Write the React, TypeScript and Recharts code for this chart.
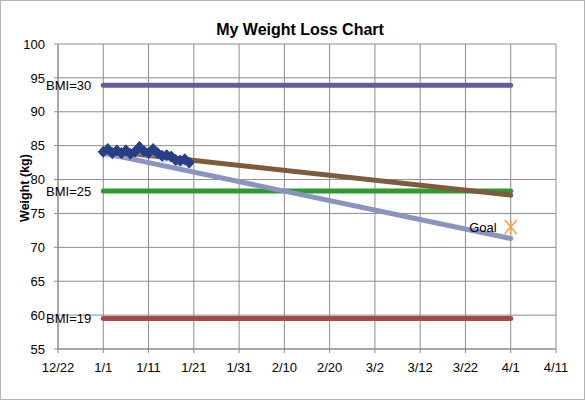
import React from "react";
import {
  ComposedChart,
  Line,
  Scatter,
  XAxis,
  YAxis,
  CartesianGrid,
  Label,
} from "recharts";

// days counted from 12/22
const tickDays = [0, 10, 20, 30, 40, 50, 60, 70, 80, 90, 100, 110];
const dateLabels = ["12/22", "1/1", "1/11", "1/21", "1/31", "2/10", "2/20", "3/2", "3/12", "3/22", "4/1", "4/11"];
const weightTicks = [55, 60, 65, 70, 75, 80, 85, 90, 95, 100];

const weighDays = [10, 11, 12, 13, 14, 15, 16, 17, 18, 19, 20, 21, 22, 23, 24, 25, 26, 27, 28, 29];
const weights = [84.1, 84.5, 83.9, 84.3, 83.9, 84.3, 83.8, 84.1, 84.8, 84.2, 83.9, 84.5, 83.9, 83.5, 83.6, 83.4, 82.9, 82.8, 83.0, 82.5];

const lineDays = [10, 100];
const trendWeights = [84.3, 77.7];
const goalPathWeights = [83.9, 71.3];

const bmiNames = ["BMI=30", "BMI=25", "BMI=19"];
const bmiWeights = [93.9, 78.3, 59.5];
const bmiColors = ["#6a5a9c", "#2f9a2f", "#aa4747"];

const goalDay = 100;
const goalWeight = 73;

const font = "'Liberation Sans', Arial, sans-serif";

const weightData = weighDays.map((d, i) => ({ day: d, kg: weights[i] }));
const trendData = lineDays.map((d, i) => ({ day: d, kg: trendWeights[i] }));
const goalPathData = lineDays.map((d, i) => ({ day: d, kg: goalPathWeights[i] }));
const goalData = [{ day: goalDay, kg: goalWeight }];

const Diamond = (props: any) => {
  const { cx, cy } = props;
  if (cx == null || cy == null) return null;
  return (
    <path
      d={`M${cx},${cy - 5.5} L${cx + 5},${cy} L${cx},${cy + 5.5} L${cx - 5},${cy} Z`}
      fill="#263f85"
      stroke="#263f85"
      strokeWidth={1}
    />
  );
};

const GoalStar = (props: any) => {
  const { cx, cy } = props;
  return (
    <g>
      <path
        d={`M${cx - 6},${cy - 7} L${cx + 6},${cy + 7} M${cx + 6},${cy - 7} L${cx - 6},${cy + 7} M${cx},${cy - 7} L${cx},${cy + 7}`}
        stroke="#f0a050"
        strokeWidth={1.5}
      />
      <text x={cx - 14} y={cy} dy="0.35em" textAnchor="end" fontSize={13} fontFamily={font} fill="#000">
        Goal
      </text>
    </g>
  );
};

const bmiLabel = (name: string) => (props: any) => {
  const { x, y, index } = props;
  if (index !== 0) return <g />;
  return (
    <text x={x - 12} y={y} dy="0.35em" textAnchor="end" fontSize={13} fontFamily={font} fill="#000">
      {name}
    </text>
  );
};

export default function App() {
  return (
    <div
      style={{
        position: "absolute",
        left: 0,
        top: 0,
        width: 585,
        height: 400,
        boxSizing: "border-box",
        border: "1px solid #b4b4b4",
        background: "#fff",
        fontFamily: font,
      }}
    >
      <style>{`.weight-series { filter: drop-shadow(1px 4px 1.5px rgba(150,158,205,0.95)); }`}</style>
      <div
        style={{
          position: "absolute",
          left: 0,
          top: 20,
          width: 598,
          textAlign: "center",
          fontWeight: "bold",
          fontSize: 16,
        }}
      >
        My Weight Loss Chart
      </div>
      <div style={{ position: "absolute", left: -1, top: -1 }}>
        <ComposedChart width={585} height={400} margin={{ top: 44, right: 29, bottom: 21, left: 0 }}>
          <CartesianGrid stroke="#8c8c8c" strokeWidth={1} vertical horizontal />
          <XAxis
            type="number"
            dataKey="day"
            domain={[0, 110]}
            ticks={tickDays}
            tickFormatter={(t: number) => dateLabels[tickDays.indexOf(t)]}
            stroke="#8c8c8c"
            tickSize={4}
            tickMargin={10}
            height={30}
            tick={{ fill: "#000", fontSize: 13, fontFamily: font }}
            allowDataOverflow
          />
          <YAxis
            type="number"
            dataKey="kg"
            domain={[55, 100]}
            ticks={weightTicks}
            stroke="#8c8c8c"
            tickSize={4}
            tickMargin={9}
            width={58}
            tick={{ fill: "#000", fontSize: 13, fontFamily: font }}
            allowDataOverflow
          >
            <Label
              content={() => (
                <text
                  x={25}
                  y={188}
                  transform="rotate(-90,25,188)"
                  textAnchor="middle"
                  dy="0.35em"
                  fontSize={12.5}
                  fontWeight="bold"
                  fontFamily={font}
                  fill="#000"
                >
                  Weight (kg)
                </text>
              )}
            />
          </YAxis>
          {bmiNames.map((name, i) => (
            <Line
              key={name}
              data={lineDays.map((d) => ({ day: d, kg: bmiWeights[i] }))}
              dataKey="kg"
              stroke={bmiColors[i]}
              strokeWidth={5}
              strokeLinecap="round"
              dot={false}
              activeDot={false}
              label={bmiLabel(name)}
              isAnimationActive={false}
            />
          ))}
          <Line
            data={goalPathData}
            dataKey="kg"
            stroke="#8b93c2"
            strokeWidth={5}
            strokeLinecap="round"
            dot={false}
            activeDot={false}
            isAnimationActive={false}
          />
          <Line
            data={trendData}
            dataKey="kg"
            stroke="#7d5b3c"
            strokeWidth={5}
            strokeLinecap="round"
            dot={false}
            activeDot={false}
            isAnimationActive={false}
          />
          <Line
            className="weight-series"
            data={weightData}
            dataKey="kg"
            stroke="#263f85"
            strokeWidth={3}
            dot={<Diamond />}
            activeDot={false}
            isAnimationActive={false}
          />
          <Scatter data={goalData} dataKey="kg" shape={<GoalStar />} isAnimationActive={false} />
        </ComposedChart>
      </div>
    </div>
  );
}
